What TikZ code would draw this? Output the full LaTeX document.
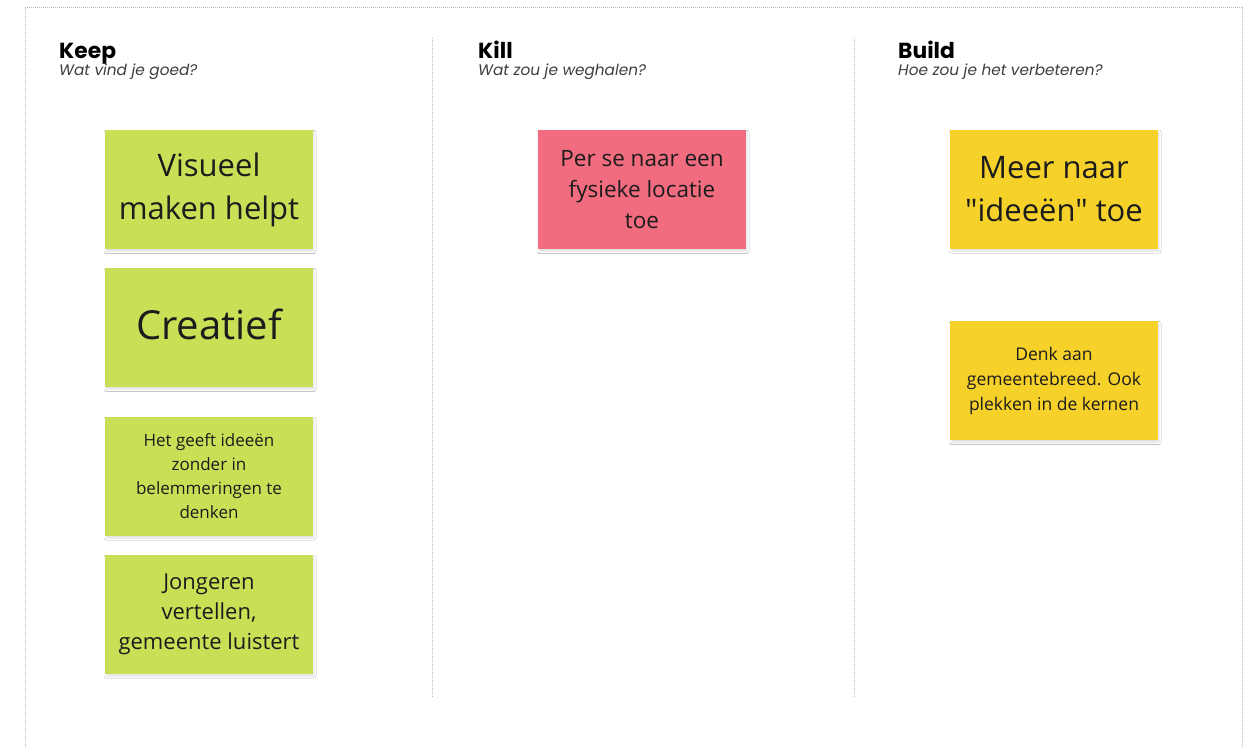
\documentclass[tikz,border=0pt]{standalone}
\usepackage{fontspec}
\setmainfont{Open Sans}[Ligatures=TeXOff]
\newfontfamily\hdr{Poppins}
\usetikzlibrary{shadows.blur}
\definecolor{frameline}{HTML}{AEBBC2}
\definecolor{stickgreen}{HTML}{CBDF56}
\definecolor{stickpink}{HTML}{F16C7F}
\definecolor{stickyellow}{HTML}{F5D12A}
\definecolor{ink}{HTML}{1C1C1C}
\tikzset{
  frame/.style={draw=frameline, line width=1pt, dash pattern=on 1pt off 1pt},
  sticky/.style={minimum width=208pt, minimum height=119pt, inner sep=0pt, align=center, text=ink,
    blur shadow={shadow xshift=1pt, shadow yshift=-2.5pt, shadow blur steps=5, shadow opacity=12, shadow blur radius=2pt}},
  title/.style={anchor=base west, inner sep=0pt, font={\hdr\bfseries\fontsize{21.8}{24}\selectfont}, text=black},
  subtitle/.style={anchor=base west, inner sep=0pt, font={\hdr\itshape\fontsize{15.3}{18}\selectfont}, text=ink!85},
}
\begin{document}
\begin{tikzpicture}[x=1pt, y=-1pt]
\useasboundingbox (0,0) rectangle (1246,747);
\fill[white] (0,0) rectangle (1246,747);
% frame
\coordinate (fbl) at (25,747);
\coordinate (ftl) at (25,7);
\coordinate (ftr) at (1242,7);
\coordinate (fbr) at (1242,747);
\draw[frame] (fbl) -- (ftl) -- (ftr) -- (fbr);
% column dividers
\coordinate (d1t) at (432,38);
\coordinate (d1b) at (432,698);
\coordinate (d2t) at (854,38);
\coordinate (d2b) at (854,698);
\draw[frame] (d1t) -- (d1b);
\draw[frame] (d2t) -- (d2b);
% headers
\node[title] (keep) at (59,58) {Keep};
\node[subtitle] (keepq) at (59,75.5) {Wat vind je goed?};
\node[title] (kill) at (478,58) {Kill};
\node[subtitle] (killq) at (478,75.5) {Wat zou je weghalen?};
\node[title] (build) at (898,58) {Build};
\node[subtitle] (buildq) at (898,75.5) {Hoe zou je het verbeteren?};
% Keep stickies
\node[sticky, fill=stickgreen, font={\fontsize{31}{43}\selectfont}] (s1) at (209,189.5) {Visueel\\maken helpt};
\node[sticky, fill=stickgreen] (s2) at (209,327.5) {};
\node[inner sep=0pt, text=ink, font={\fontsize{40}{48}\selectfont}] (s2t) at (s2.center) [yshift=3pt] {Creatief};
\node[sticky, fill=stickgreen, font={\fontsize{17}{24}\selectfont}] (s3) at (209,476) {Het geeft ideeën\\zonder in\\belemmeringen te\\denken};
\node[sticky, fill=stickgreen, font={\fontsize{22}{30}\selectfont}] (s4) at (209,614) {Jongeren\\vertellen,\\gemeente luistert};
% Kill sticky
\node[sticky, fill=stickpink, font={\fontsize{22.5}{31}\selectfont}] (s5) at (642,189.5) {Per se naar een\\fysieke locatie\\toe};
% Build stickies
\node[sticky, fill=stickyellow, font={\fontsize{31}{43}\selectfont}] (s6) at (1054,189) {Meer naar\\"ideeën" toe};
\node[sticky, fill=stickyellow, font={\fontsize{17.5}{25}\selectfont}] (s7) at (1054,380.5) {Denk aan\\gemeentebreed. Ook\\plekken in de kernen};
\end{tikzpicture}
\end{document}
